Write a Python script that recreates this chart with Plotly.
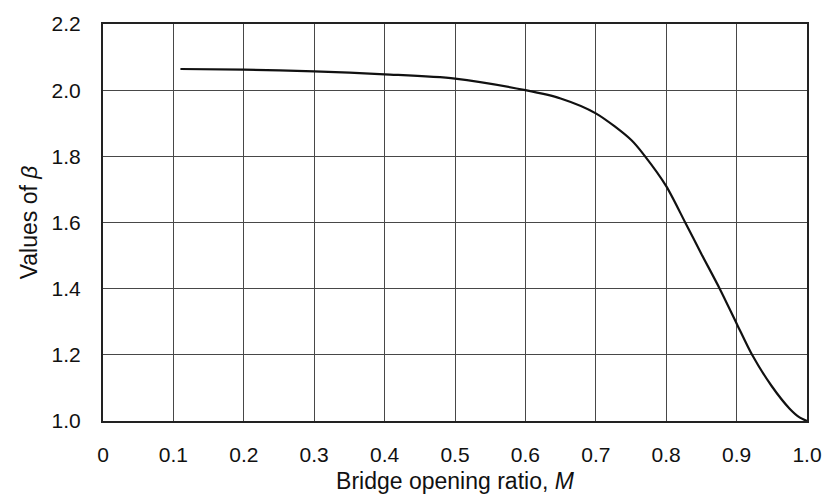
import plotly.graph_objects as go

# Bridge opening ratio M and the corresponding beta coefficient
opening_ratio = [0.11, 0.2, 0.3, 0.4, 0.5, 0.6, 0.65, 0.7, 0.75, 0.77, 0.8,
                 0.827, 0.85, 0.876, 0.9, 0.922, 0.95, 0.975, 0.99, 1.0]
beta_values = [2.064, 2.062, 2.057, 2.048, 2.035, 2.0, 1.975, 1.93, 1.85, 1.8, 1.71,
               1.6, 1.505, 1.4, 1.295, 1.2, 1.105, 1.038, 1.01, 1.0]

x_ticks = [0, 0.1, 0.2, 0.3, 0.4, 0.5, 0.6, 0.7, 0.8, 0.9, 1.0]
x_tick_labels = ["0", "0.1", "0.2", "0.3", "0.4", "0.5", "0.6", "0.7", "0.8", "0.9", "1.0"]
y_ticks = [1.0, 1.2, 1.4, 1.6, 1.8, 2.0, 2.2]
y_tick_labels = ["1.0", "1.2", "1.4", "1.6", "1.8", "2.0", "2.2"]

fig = go.Figure()
fig.add_trace(go.Scatter(
    x=opening_ratio, y=beta_values, mode="lines",
    line=dict(color="#111111", width=2.2, shape="spline", smoothing=0.8),
    hoverinfo="x+y", showlegend=False,
))

font_family = "Liberation Sans, Arial, sans-serif"
fig.update_layout(
    width=834, height=502,
    margin=dict(l=103, r=24, t=17, b=79),
    paper_bgcolor="white", plot_bgcolor="white",
    font=dict(family=font_family, size=21, color="#111111"),
    xaxis=dict(
        range=[0, 1.0], tickvals=x_ticks, ticktext=x_tick_labels,
        showgrid=True, gridcolor="#484848", gridwidth=1,
        showline=True, linecolor="#222222", linewidth=2, mirror=True,
        ticks="", ticklabelstandoff=14, zeroline=False,
        title=dict(text="Bridge opening ratio, <i>M</i>", font=dict(size=23), standoff=8),
    ),
    yaxis=dict(
        range=[1.0, 2.2], tickvals=y_ticks, ticktext=y_tick_labels,
        showgrid=True, gridcolor="#484848", gridwidth=1,
        showline=True, linecolor="#222222", linewidth=2, mirror=True,
        ticks="", ticklabelstandoff=16, zeroline=False,
        title=dict(text="Values of <i>β</i>", font=dict(size=23), standoff=8),
    ),
)

fig.write_html("out.html")
